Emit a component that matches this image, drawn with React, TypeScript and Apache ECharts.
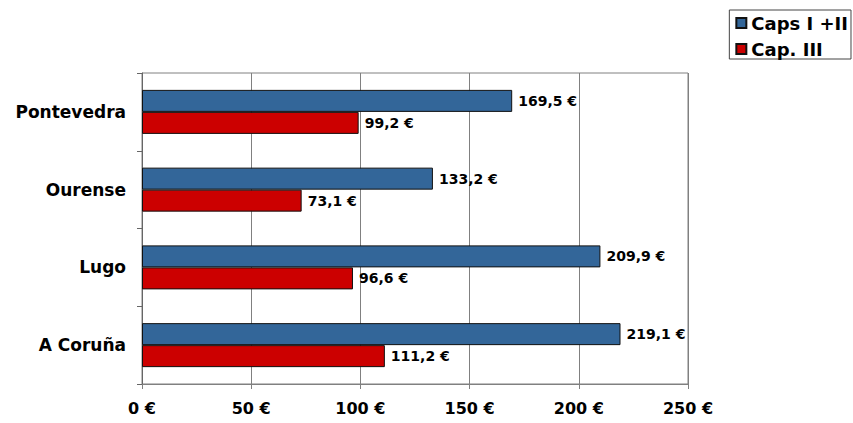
import React, { useEffect, useRef } from "react";
import * as echarts from "echarts";

const categories = ["A Coruña", "Lugo", "Ourense", "Pontevedra"];
const capsI_II = [219.1, 209.9, 133.2, 169.5];
const capIII = [111.2, 96.6, 73.1, 99.2];
const seriesNames = ["Caps I +II", "Cap. III"];
const xTicks = [0, 50, 100, 150, 200, 250];

const FONT = "'DejaVu Sans', Verdana, sans-serif";

function fmt(v: number) {
  return v.toFixed(1).replace(".", ",") + " €";
}

export default function App() {
  const ref = useRef<HTMLDivElement>(null);
  useEffect(() => {
    if (!ref.current) return;
    const chart = echarts.init(ref.current, null, { renderer: "svg" });
    const labelStyle = {
      show: true,
      position: "right",
      distance: 6,
      fontFamily: FONT,
      fontWeight: "bold",
      fontSize: 14,
      color: "#000",
      formatter: (p: any) => fmt(p.value),
    };
    chart.setOption({
      animation: false,
      backgroundColor: "#ffffff",
      textStyle: { fontFamily: FONT },
      legend: {
        data: seriesNames,
        orient: "vertical",
        right: 2,
        top: 10,
        padding: [4, 3, 1, 6],
        itemGap: 8,
        itemWidth: 10,
        itemHeight: 10,
        borderColor: "#444",
        borderWidth: 1,
        icon: "rect",
        textStyle: { fontFamily: FONT, fontWeight: "bold", fontSize: 18, color: "#000" },
      },
      grid: {
        left: 142,
        right: 165,
        top: 73,
        bottom: 39,
        show: true,
        borderColor: "#808080",
        borderWidth: 1,
      },
      xAxis: {
        type: "value",
        min: xTicks[0],
        max: xTicks[xTicks.length - 1],
        interval: 50,
        axisLine: { show: true, lineStyle: { color: "#808080" } },
        axisTick: { show: true, length: 5, lineStyle: { color: "#808080" } },
        splitLine: { show: true, lineStyle: { color: "#808080", width: 1 } },
        axisLabel: {
          margin: 16,
          fontFamily: FONT,
          fontWeight: "bold",
          fontSize: 16,
          color: "#000",
          formatter: (v: number) => v + " €",
        },
      },
      yAxis: {
        type: "category",
        data: categories,
        axisLine: { show: true, lineStyle: { color: "#666" } },
        axisTick: { show: true, length: 5, lineStyle: { color: "#666" } },
        axisLabel: {
          margin: 16,
          fontFamily: FONT,
          fontWeight: "bold",
          fontSize: 17,
          color: "#000",
        },
      },
      series: [
        {
          name: seriesNames[0],
          type: "bar",
          data: capsI_II,
          barWidth: 22,
          barGap: "0%",
          itemStyle: { color: "#336699", borderColor: "#111", borderWidth: 1 },
          label: labelStyle,
        },
        {
          name: seriesNames[1],
          type: "bar",
          data: capIII,
          barWidth: 22,
          barGap: "0%",
          itemStyle: { color: "#CC0000", borderColor: "#111", borderWidth: 1 },
          label: labelStyle,
        },
      ],
    });
    return () => chart.dispose();
  }, []);
  return (
    <div
      ref={ref}
      style={{ position: "fixed", left: 0, top: 0, width: 853, height: 423 }}
    />
  );
}
